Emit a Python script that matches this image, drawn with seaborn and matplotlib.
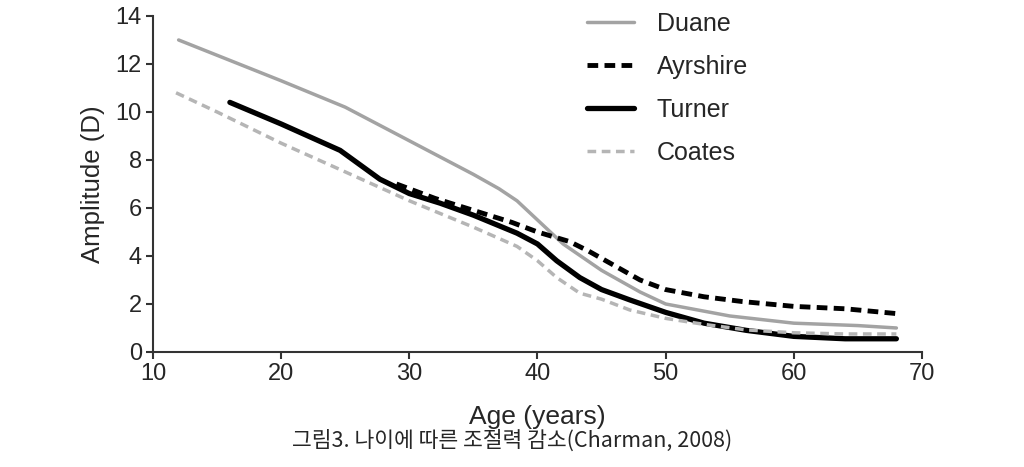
import matplotlib
matplotlib.use('Agg')
import matplotlib.pyplot as plt
import seaborn as sns
import pandas as pd

# values
duane_age = [12, 20, 25, 30, 35, 37, 38.4, 40, 42, 45, 48, 50, 55, 60, 65, 68]
duane_amp = [13.0, 11.3, 10.2, 8.8, 7.4, 6.8, 6.3, 5.5, 4.5, 3.4, 2.5, 2.0, 1.5, 1.2, 1.1, 1.0]

ayrshire_age = [29, 32, 35, 38, 40, 42.5, 44, 46, 48, 50, 53, 56, 60, 64, 68]
ayrshire_amp = [7.0, 6.4, 5.9, 5.4, 5.0, 4.6, 4.2, 3.6, 3.0, 2.6, 2.3, 2.1, 1.9, 1.8, 1.6]

turner_age = [16, 20, 24.6, 27.7, 30, 32.4, 35, 38.4, 40, 41.5, 43.3, 45, 47.2, 50, 53, 56.3, 60, 64, 68]
turner_amp = [10.4, 9.5, 8.4, 7.2, 6.6, 6.2, 5.7, 4.95, 4.5, 3.8, 3.1, 2.6, 2.17, 1.65, 1.2, 0.9, 0.65, 0.55, 0.55]

coates_age = [11.8, 15, 20, 24.6, 30, 35, 38.4, 40, 41.5, 43.3, 45, 47.2, 50, 53, 56.3, 60, 64, 68]
coates_amp = [10.8, 10.0, 8.7, 7.6, 6.3, 5.2, 4.4, 3.8, 3.1, 2.45, 2.2, 1.75, 1.4, 1.15, 0.92, 0.8, 0.75, 0.75]

series = [
    ('Duane', duane_age, duane_amp, '#a3a3a3', '-', 2.5),
    ('Ayrshire', ayrshire_age, ayrshire_amp, 'black', (0, (2.2, 1.3)), 3.5),
    ('Turner', turner_age, turner_amp, 'black', '-', 3.8),
    ('Coates', coates_age, coates_amp, '#b5b5b5', (0, (2.5, 1.6)), 2.5),
]

sns.set_style('ticks')
plt.rcParams['font.family'] = ['Liberation Sans', 'DejaVu Sans']

fig = plt.figure(figsize=(10.24, 4.67), dpi=100)
ax = fig.add_axes([0.1494, 0.2463, 0.751, 0.7195])

for name, age, amp, color, ls, lw in series:
    df = pd.DataFrame({'Age': age, 'Amplitude': amp})
    sns.lineplot(data=df, x='Age', y='Amplitude', ax=ax, color=color,
                 linestyle=ls, linewidth=lw, label=name)

ax.set_xlim(10, 70)
ax.set_ylim(0, 14)
ax.set_xticks(range(10, 71, 10))
ax.set_yticks(range(0, 15, 2))
ax.tick_params(labelsize=17, length=5, width=1.5, color='#333333', pad=3)
for s in ['top', 'right']:
    ax.spines[s].set_visible(False)
for s in ['left', 'bottom']:
    ax.spines[s].set_linewidth(1.5)
    ax.spines[s].set_color('#333333')

ax.set_xlabel('Age (years)', fontsize=19, labelpad=14)
ax.set_ylabel('Amplitude (D)', fontsize=18.5, labelpad=8)

leg = ax.legend(loc='upper left', bbox_to_anchor=(0.535, 1.08), frameon=False,
                fontsize=18, handlelength=1.9, handletextpad=0.9, labelspacing=0.76)

fig.text(0.5, 0.056, '그림3. 나이에 따른 조절력 감소(Charman, 2008)', ha='center', va='center',
         fontsize=15.5, family=['Noto Sans CJK KR', 'DejaVu Sans'])

plt.savefig('out.png', dpi=100)
